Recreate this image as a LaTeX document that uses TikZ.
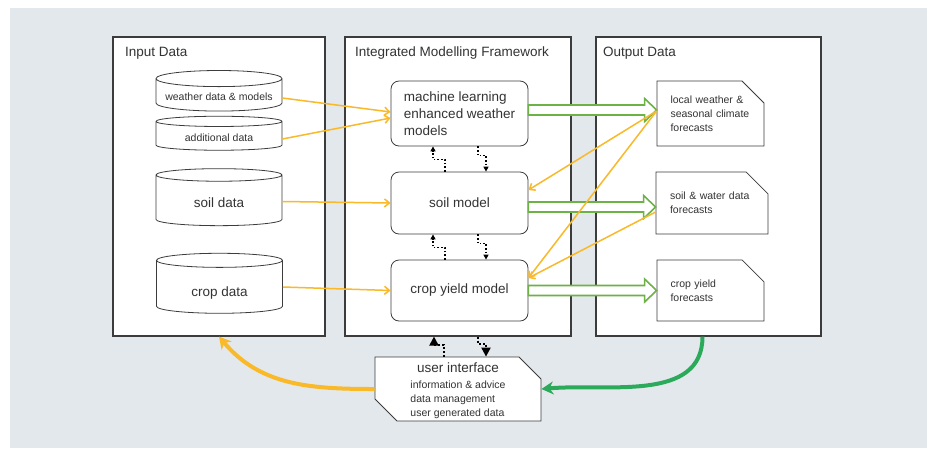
\documentclass[tikz,border=0pt]{standalone}
\usepackage{fontspec}
\setmainfont{Liberation Sans}
\usetikzlibrary{arrows.meta,shapes.geometric,shapes.misc,calc}

\definecolor{bggray}{HTML}{E3E8EC}
\definecolor{linegray}{HTML}{3C3C3C}
\definecolor{txtgray}{HTML}{333333}
\definecolor{flowyellow}{HTML}{F9B928}
\definecolor{outgreen}{HTML}{6CB246}
\definecolor{loopgreen}{HTML}{2BAA5B}

\newcommand{\ttlfont}{\fontsize{13.5}{16}\selectfont}
\newcommand{\mdlfont}{\fontsize{13.5}{17}\selectfont}
\newcommand{\smlfont}{\fontsize{10.5}{14}\selectfont}

\tikzset{
  panel/.style={draw=linegray, line width=1.1pt, fill=white, minimum height=299pt, inner sep=0pt},
  title/.style={anchor=west, text=txtgray, font=\ttlfont, inner sep=0pt},
  store/.style={cylinder, shape border rotate=90, draw=linegray, line width=0.8pt, fill=white,
    minimum width=126pt, text=txtgray, inner sep=0pt},
  model/.style={draw=linegray, line width=0.8pt, rounded corners=8pt, fill=white,
    minimum width=137pt, text=txtgray, font=\mdlfont, align=left},
  forecast/.style={chamfered rectangle, chamfered rectangle corners=north east,
    chamfered rectangle xsep=11pt, chamfered rectangle ysep=11pt,
    draw=linegray, line width=0.8pt, fill=white, inner ysep=0pt,
    text=txtgray, font=\smlfont, align=left},
  ui/.style={chamfered rectangle, chamfered rectangle corners={north east,south west},
    chamfered rectangle xsep=11pt, chamfered rectangle ysep=11pt,
    draw=linegray, line width=0.8pt, fill=white, minimum width=166pt, minimum height=64pt,
    inner xsep=0pt, inner ysep=-12pt, text=txtgray, font=\mdlfont, align=center},
  feed/.style={draw=flowyellow, line width=1.5pt, -{Straight Barb[length=5pt,width=8pt]}},
  result/.style={draw=outgreen, line width=1.6pt, fill=white, line join=miter,
    to path={let \p1=(\tikztostart), \p2=(\tikztotarget) in
      (\x1,\y1+5pt) -- (\x2-12pt,\y1+5pt) -- (\x2-12pt,\y1+11.5pt) -- (\x2,\y1)
      -- (\x2-12pt,\y1-11.5pt) -- (\x2-12pt,\y1-5pt) -- (\x1,\y1-5pt) -- cycle}},
  link/.style={dotted, line width=1.6pt, -{Triangle[length=5pt,width=5pt]}},
  biglink/.style={dotted, line width=2pt, -{Triangle[length=9pt,width=9pt]}},
  loopback/.style={line width=4pt, -{Stealth[length=12pt,width=13pt]}},
}

\begin{document}
\begin{tikzpicture}[x=1pt, y=-1pt]

\def\width{933}
\def\height{448}

\path [use as bounding box] (0,0) rectangle (\width,\height);
\fill [bggray] (10,8) rectangle (927,\height);

% PANELS
\node[panel, minimum width=212pt] (inpanel) at (219,186.5) {};
\node[panel, minimum width=226pt] (fwpanel) at (458,186.5) {};
\node[panel, minimum width=225pt] (outpanel) at (708.5,186.5) {};
\node[title] (intitle) at (125,53) {Input Data};
\node[title] (fwtitle) at (355,53) {Integrated Modelling Framework};
\node[title] (outtitle) at (603,53) {Output Data};

% INPUT DATA
\node[store, minimum height=34pt, aspect=0.15, font=\smlfont, text height=13.5pt, text depth=2.5pt] (wdata) at (219,95) {weather data \& models};
\node[store, minimum height=34pt, aspect=0.15, font=\smlfont, text height=13.5pt, text depth=2.5pt] (adata) at (219,136) {additional data};
\node[store, minimum height=57pt, aspect=0.25, font=\mdlfont, text height=17pt, text depth=2.8pt] (sdata) at (219,200.5) {soil data};
\node[store, minimum height=60pt, aspect=0.25, font=\mdlfont, text height=22pt, text depth=2.8pt] (cdata) at (219.5,287) {crop data};

% MODELS
\node[model, minimum height=65pt] (mlmodel) at (459.5,113.5) {machine learning\\enhanced weather\\models};
\node[model, minimum height=62pt] (soilmodel) at (459.5,203) {soil model};
\node[model, minimum height=61pt] (cropmodel) at (459.5,290.5) {crop yield model};

% OUTPUT DATA
\node[forecast, minimum width=107pt, text width=80pt, inner xsep=2.5pt, minimum height=65pt] (wfc) at (710.5,113.5) {local weather \&\\seasonal climate\\forecasts};
\node[forecast, minimum width=112pt, text width=84pt, inner xsep=3pt, minimum height=62pt] (swfc) at (712,203) {soil \& water data\\forecasts};
\node[forecast, minimum width=107pt, text width=80pt, inner xsep=2.5pt, minimum height=61pt] (cfc) at (710.5,290.5) {crop yield\\forecasts};

% USER INTERFACE
\node[ui] (ui) at (458,389) {\rule{0pt}{16pt}user interface\\[-1pt]{\smlfont\begin{tabular}[t]{@{}l@{}}information \& advice\\data management\\user generated data\end{tabular}}};

% RESULTS
\draw[result] ([yshift=3.5pt]mlmodel.east) to (wfc.west);
\draw[result] ([yshift=-4pt]soilmodel.east) to (swfc.west);
\draw[result] (cropmodel.east) to (cfc.west);

% FEEDS
\draw[feed] ([yshift=-3pt]wdata.east) -- ([yshift=1.5pt]mlmodel.west);
\draw[feed] ([yshift=-3pt]adata.east) -- ([yshift=-4.5pt]mlmodel.west);
\draw[feed] ([yshift=-1pt]sdata.east) -- (soilmodel.west);
\draw[feed] (cdata.east) -- (cropmodel.west);
\draw[feed] ([yshift=2.5pt]wfc.west) -- ([yshift=13pt]soilmodel.east);
\draw[feed] ([yshift=2.5pt]wfc.west) -- ([yshift=12.5pt]cropmodel.east);
\draw[feed] ([yshift=-9pt]swfc.west) -- ([yshift=12.5pt]cropmodel.east);

% LINKS
\draw[link] ([xshift=-14.5pt]soilmodel.north) -- ++(0,-12) -| ([xshift=-26.5pt]mlmodel.south);
\draw[link] ([xshift=18.5pt]mlmodel.south) -- ++(0,9) -| ([xshift=26.5pt]soilmodel.north);
\draw[link] ([xshift=-14.5pt]cropmodel.north) -- ++(0,-12) -| ([xshift=-26.5pt]soilmodel.south);
\draw[link] ([xshift=18.5pt]soilmodel.south) -- ++(0,9) -| ([xshift=26.5pt]cropmodel.north);
\draw[biglink] ([xshift=-14pt]ui.north) -- ++(0,-12) -| ([xshift=-24pt]fwpanel.south);
\draw[biglink] ([xshift=20pt]fwpanel.south) -- ++(0,7) -| ([xshift=28pt]ui.north);

% LOOP
\draw[loopback, draw=flowyellow] (ui.west) to[out=180, in=-50] (inpanel.south);
\draw[loopback, draw=loopgreen] ([xshift=-6pt]outpanel.south) to[out=-90, in=5] (ui.east);

\end{tikzpicture}
\end{document}
